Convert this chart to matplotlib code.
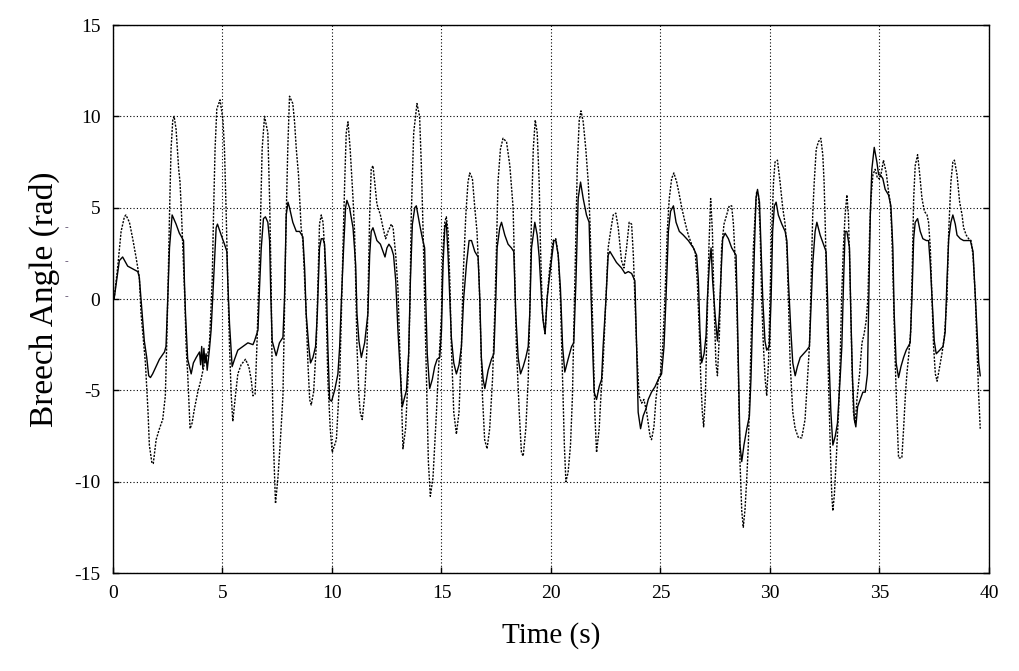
import matplotlib
matplotlib.use("Agg")
import matplotlib.pyplot as plt

# ---------------- data ----------------
# solid trace (smaller amplitude)
t_solid = [
    0.05, 0.29, 0.44, 0.67, 1.13, 1.2, 1.33, 1.43, 1.54, 1.63, 1.71, 1.81, 2.12, 2.35, 2.42,
    2.5, 2.58, 2.7, 2.88, 3.03, 3.22, 3.26, 3.31, 3.41, 3.57, 3.67, 3.8, 3.95, 4.0, 4.05,
    4.1, 4.15, 4.2, 4.25, 4.3, 4.4, 4.48, 4.59, 4.71, 4.77, 4.94, 5.09, 5.2, 5.24, 5.32,
    5.44, 5.55, 5.7, 5.93, 6.16, 6.39, 6.46, 6.62, 6.69, 6.77, 6.87, 6.96, 7.07, 7.15, 7.21,
    7.27, 7.38, 7.45, 7.6, 7.76, 7.83, 7.91, 7.99, 8.06, 8.21, 8.37, 8.52, 8.67, 8.75, 8.82,
    8.94, 9.02, 9.13, 9.25, 9.33, 9.43, 9.51, 9.59, 9.66, 9.74, 9.81, 9.89, 9.98, 10.12,
    10.27, 10.35, 10.43, 10.53, 10.62, 10.68, 10.8, 10.96, 11.08, 11.14, 11.23, 11.34,
    11.49, 11.64, 11.72, 11.79, 11.87, 11.95, 12.05, 12.21, 12.33, 12.42, 12.51, 12.6,
    12.71, 12.81, 12.91, 13.01, 13.12, 13.21, 13.29, 13.4, 13.5, 13.58, 13.67, 13.78,
    13.85, 14.0, 14.13, 14.23, 14.28, 14.35, 14.46, 14.58, 14.69, 14.8, 14.92, 15.0, 15.07,
    15.15, 15.22, 15.3, 15.38, 15.45, 15.56, 15.68, 15.8, 15.91, 16.01, 16.14, 16.26,
    16.37, 16.52, 16.67, 16.75, 16.82, 16.9, 16.98, 17.13, 17.28, 17.39, 17.48, 17.54,
    17.66, 17.74, 17.89, 18.04, 18.19, 18.3, 18.39, 18.5, 18.61, 18.73, 18.85, 18.96,
    19.03, 19.11, 19.19, 19.26, 19.37, 19.46, 19.57, 19.64, 19.73, 19.82, 19.91, 20.02,
    20.13, 20.22, 20.33, 20.43, 20.53, 20.63, 20.78, 20.94, 21.04, 21.14, 21.24, 21.35,
    21.47, 21.62, 21.74, 21.81, 21.9, 21.97, 22.08, 22.2, 22.31, 22.38, 22.51, 22.61,
    22.69, 22.84, 22.99, 23.22, 23.38, 23.53, 23.68, 23.83, 23.91, 23.98, 24.09, 24.21,
    24.34, 24.44, 24.59, 24.75, 24.9, 25.05, 25.16, 25.25, 25.36, 25.46, 25.59, 25.71,
    25.86, 26.04, 26.27, 26.5, 26.65, 26.73, 26.8, 26.88, 26.99, 27.08, 27.14, 27.23,
    27.31, 27.38, 27.49, 27.6, 27.69, 27.75, 27.84, 27.95, 28.1, 28.25, 28.45, 28.51,
    28.57, 28.63, 28.71, 28.81, 28.94, 29.06, 29.13, 29.21, 29.29, 29.36, 29.43, 29.52,
    29.59, 29.67, 29.77, 29.85, 29.97, 30.05, 30.12, 30.2, 30.28, 30.38, 30.54, 30.69,
    30.77, 30.84, 30.95, 31.04, 31.15, 31.25, 31.38, 31.53, 31.68, 31.8, 31.86, 31.95,
    32.06, 32.14, 32.29, 32.44, 32.56, 32.63, 32.7, 32.78, 32.87, 32.98, 33.08, 33.2,
    33.28, 33.36, 33.43, 33.51, 33.63, 33.69, 33.77, 33.85, 33.92, 34.0, 34.12, 34.24,
    34.35, 34.45, 34.5, 34.58, 34.65, 34.76, 34.88, 34.96, 35.03, 35.15, 35.26, 35.41,
    35.52, 35.61, 35.67, 35.76, 35.87, 35.98, 36.1, 36.22, 36.4, 36.48, 36.56, 36.63,
    36.74, 36.86, 36.98, 37.14, 37.24, 37.32, 37.4, 37.5, 37.59, 37.75, 37.9, 38.0, 38.08,
    38.16, 38.26, 38.35, 38.46, 38.54, 38.69, 38.84, 38.99, 39.15, 39.27, 39.38, 39.45,
    39.53, 39.6,
]
angle_solid = [
    0.0, 2.1, 2.3, 1.8, 1.5, 1.2, -0.8, -2.3, -3.2, -4.2, -4.3, -4.1, -3.3, -2.9, -2.6,
    0.0, 2.8, 4.6, 4.1, 3.6, 3.2, 1.0, -0.8, -3.3, -4.1, -3.5, -3.2, -2.9, -3.6, -2.6,
    -3.8, -2.7, -3.5, -3.0, -3.9, -2.8, -1.7, 1.0, 3.9, 4.1, 3.5, 3.0, 2.6, 1.0, -1.35,
    -3.7, -3.3, -2.8, -2.6, -2.4, -2.5, -2.3, -1.7, 0.6, 2.8, 4.4, 4.5, 4.2, 3.2, 0.0,
    -2.3, -2.8, -3.1, -2.4, -2.1, 0.0, 4.6, 5.3, 5.0, 4.2, 3.7, 3.7, 3.4, 1.7, -0.8,
    -2.6, -3.5, -3.2, -2.6, -0.8, 2.8, 3.3, 3.3, 3.0, 1.0, -2.6, -5.5, -5.6, -5.0,
    -4.1, -2.6, 0.0, 2.8, 5.0, 5.4, 5.0, 3.9, 1.9, -0.8, -2.3, -3.2,
    -2.4, -0.8, 2.4, 3.7, 3.9, 3.6, 3.2, 3.0, 2.6, 2.3, 2.8, 3.0,
    2.8, 2.4, 1.0, -1.7, -4.1, -5.9, -5.5, -5.0, -3.0, 1.0, 4.1, 5.0,
    5.1, 4.1, 3.3, 2.8, 0.0, -3.0, -4.9, -4.4, -3.7, -3.3, -3.2, -1.7, 1.9,
    3.9, 4.2, 2.4, 0.0, -2.1, -3.5, -4.1, -3.6, -2.6, 0.0, 1.9, 3.2,
    3.2, 2.6, 2.3, 0.0, -3.2, -4.4, -4.9, -3.9, -3.3, -3.0, 0.0, 2.8,
    3.9, 4.2, 3.5, 3.0, 2.8, 2.6, -0.8, -3.2, -4.1, -3.7, -3.2, -2.6,
    -0.8, 2.8, 3.5, 4.2, 3.5, 2.3, 0.0, -1.2, -1.9, 0.0, 1.0, 2.1,
    3.2, 3.2, 2.4, 0.6, -2.6, -4.0, -3.3, -2.6, -2.4, 1.0, 5.5, 6.4,
    5.5, 4.6, 4.2, 1.0, -2.6, -5.1, -5.5, -4.8, -4.4, -2.6, 0.0, 2.4,
    2.6, 2.3, 2.0, 1.7, 1.4, 1.5, 1.4, 1.0, -2.6, -6.2, -7.1, -6.4,
    -6.0, -5.5, -5.1, -4.8, -4.4, -4.1, -2.6, 0.0, 3.7, 4.8, 5.1, 4.2,
    3.7, 3.5, 3.2, 2.8, 2.4, 1.0, -1.7, -3.5, -3.0, -2.0, 0.0, 1.9,
    2.8, 1.0, -0.8, -2.3, -0.8, 1.0, 3.3, 3.6, 3.3, 2.8, 2.4, -0.8,
    -4.4, -8.0, -8.9, -8.0, -7.1, -6.4, -4.4, -0.8, 2.8, 5.5, 6.0, 5.3,
    2.8, 0.0, -2.3, -2.8, -2.6, 0.0, 3.7, 5.1, 5.3, 4.6, 4.1, 3.7,
    3.2, 1.0, -1.7, -3.5, -4.2, -3.7, -3.2, -3.0, -2.8, -2.6, -0.8, 1.9,
    3.7, 4.2, 3.5, 3.0, 2.6, 0.0, -3.5, -6.2, -8.0, -7.5, -6.8, -4.4,
    -2.6, 1.0, 3.7, 3.7, 2.8, -0.8, -4.4, -6.6, -7.0, -5.9, -5.5, -5.1,
    -5.1, -4.1, -0.8, 4.6, 7.1, 8.3, 7.5, 6.8, 6.8, 6.6, 6.0, 5.7,
    5.1, 2.8, -0.8, -3.5, -4.3, -3.7, -3.2, -2.8, -2.4, 0.0, 3.3, 4.2,
    4.4, 3.7, 3.3, 3.2, 3.2, 1.9, 0.0, -2.3, -3.0, -2.8, -2.6, -1.8, 1.0,
    3.3, 4.2, 4.6, 4.1, 3.5, 3.3, 3.2, 3.2, 3.2, 2.6, 0.0, -1.7,
    -3.5, -4.2,
]

# dotted trace (larger amplitude)
t_dot = [
    0.05, 0.21, 0.37, 0.52, 0.59, 0.75, 0.9, 1.05, 1.2, 1.28, 1.36, 1.48, 1.54, 1.6, 1.66,
    1.78, 1.84, 1.97, 2.12, 2.27, 2.39, 2.45, 2.52, 2.58, 2.65, 2.73, 2.79, 2.88, 3.0,
    3.06, 3.13, 3.19, 3.28, 3.34, 3.41, 3.52, 3.61, 3.72, 3.87, 4.02, 4.18, 4.33, 4.41,
    4.53, 4.59, 4.66, 4.74, 4.89, 5.02, 5.09, 5.17, 5.24, 5.32, 5.4, 5.47, 5.59, 5.7,
    5.85, 6.05, 6.2, 6.31, 6.39, 6.49, 6.57, 6.66, 6.74, 6.81, 6.92, 7.07, 7.15, 7.22,
    7.27, 7.33, 7.42, 7.53, 7.63, 7.76, 7.83, 7.91, 7.98, 8.06, 8.21, 8.29, 8.37, 8.47,
    8.59, 8.67, 8.75, 8.82, 8.9, 8.98, 9.05, 9.16, 9.28, 9.36, 9.43, 9.51, 9.59, 9.66,
    9.74, 9.81, 9.92, 10.01, 10.12, 10.2, 10.27, 10.35, 10.43, 10.5, 10.58, 10.65, 10.73,
    10.83, 10.96, 11.03, 11.08, 11.14, 11.23, 11.29, 11.38, 11.49, 11.6, 11.66, 11.72,
    11.79, 11.87, 11.95, 12.05, 12.21, 12.33, 12.45, 12.56, 12.71, 12.79, 12.91, 13.01,
    13.09, 13.17, 13.24, 13.36, 13.47, 13.55, 13.62, 13.73, 13.88, 14.0, 14.08, 14.16,
    14.23, 14.31, 14.4, 14.49, 14.61, 14.69, 14.77, 14.84, 14.92, 15.0, 15.07, 15.15,
    15.22, 15.3, 15.38, 15.45, 15.56, 15.68, 15.8, 15.91, 15.98, 16.11, 16.21, 16.29,
    16.41, 16.52, 16.62, 16.72, 16.78, 16.87, 16.97, 17.08, 17.2, 17.33, 17.43, 17.51,
    17.58, 17.69, 17.81, 17.97, 18.12, 18.27, 18.35, 18.42, 18.55, 18.65, 18.73, 18.85,
    18.96, 19.03, 19.11, 19.19, 19.28, 19.37, 19.46, 19.52, 19.61, 19.73, 19.82, 19.94,
    20.1, 20.22, 20.33, 20.43, 20.53, 20.61, 20.68, 20.78, 20.89, 20.98, 21.04, 21.14,
    21.2, 21.29, 21.37, 21.47, 21.59, 21.7, 21.78, 21.85, 21.93, 22.0, 22.08, 22.2, 22.28,
    22.38, 22.51, 22.61, 22.72, 22.84, 22.96, 23.07, 23.22, 23.33, 23.45, 23.57, 23.68,
    23.76, 23.83, 23.91, 24.02, 24.14, 24.24, 24.37, 24.52, 24.59, 24.7, 24.79, 24.9,
    25.0, 25.1, 25.2, 25.31, 25.4, 25.51, 25.61, 25.74, 25.86, 25.97, 26.12, 26.27, 26.42,
    26.58, 26.68, 26.77, 26.84, 26.91, 26.97, 27.05, 27.14, 27.21, 27.29, 27.37, 27.44,
    27.53, 27.6, 27.69, 27.79, 27.9, 28.02, 28.14, 28.25, 28.33, 28.4, 28.48, 28.56,
    28.63, 28.71, 28.78, 28.86, 28.94, 29.01, 29.09, 29.17, 29.24, 29.32, 29.39, 29.47,
    29.55, 29.62, 29.7, 29.78, 29.85, 29.93, 30.0, 30.08, 30.16, 30.23, 30.34, 30.46,
    30.58, 30.69, 30.77, 30.84, 30.92, 31.04, 31.15, 31.3, 31.45, 31.6, 31.71, 31.8,
    31.88, 31.95, 32.02, 32.11, 32.21, 32.32, 32.41, 32.47, 32.53, 32.59, 32.67, 32.75,
    32.82, 32.87, 32.94, 33.02, 33.13, 33.2, 33.27, 33.35, 33.43, 33.51, 33.58, 33.66,
    33.74, 33.81, 33.89, 33.97, 34.09, 34.2, 34.3, 34.39, 34.47, 34.55, 34.61, 34.7,
    34.8, 34.91, 35.03, 35.11, 35.18, 35.31, 35.41, 35.49, 35.56, 35.64, 35.72, 35.79,
    35.87, 36.02, 36.1, 36.18, 36.25, 36.34, 36.43, 36.5, 36.56, 36.63, 36.74, 36.83,
    36.94, 37.05, 37.17, 37.24, 37.32, 37.4, 37.47, 37.55, 37.63, 37.75, 37.85, 37.96,
    38.08, 38.16, 38.26, 38.35, 38.42, 38.54, 38.66, 38.77, 38.84, 38.96, 39.07, 39.18,
    39.27, 39.38, 39.45, 39.53, 39.6,
]
angle_dot = [
    0.0, 1.7, 3.7, 4.5, 4.6, 4.2, 3.3, 2.3, 1.2, -0.8, -1.9, -3.5, -4.8, -6.2, -8.0,
    -9.0, -9.0, -7.7, -7.1, -6.6, -5.3, -2.6, 1.0, 4.6, 8.2, 9.8, 10.0, 9.3, 7.1,
    6.4, 4.6, 2.8, 0.0, -2.6, -4.1, -7.1, -6.8, -6.0, -5.1, -4.4, -3.5, -3.0, -2.3,
    1.0, 4.6, 8.2, 10.4, 10.9, 9.8, 8.2, 4.6, 1.0, -2.6, -5.3, -6.7, -5.3, -4.1,
    -3.6, -3.3, -3.7, -4.4, -5.3, -5.2, -2.6, 1.0, 4.6, 8.2, 10.0, 9.1, 5.5, 1.0,
    -4.4, -8.0, -11.2, -9.8, -8.0, -5.3, -0.8, 4.6, 8.2, 11.1, 10.7, 9.7, 8.2, 6.8,
    3.9, 3.2, 1.0, -0.8, -3.5, -5.5, -5.8, -5.1, -2.6, 1.0, 4.1, 4.6, 4.2, 2.8,
    -0.8, -4.4, -7.1, -8.4, -8.0, -7.7, -6.2, -4.4, -0.8, 2.8, 6.4, 9.1, 9.7,
    8.2, 5.5, 3.7, 1.0, -2.6, -5.3, -6.2, -6.6, -5.3, -2.6, 1.0, 4.6,
    7.1, 7.3, 6.4, 5.2, 4.6, 3.9, 3.3, 3.7, 4.1, 3.9, 2.4, 0.6,
    -2.6, -5.3, -8.2, -7.1, -4.4, -0.8, 4.6, 9.1, 10.7, 10.0, 7.3, 3.7,
    0.0, -4.4, -8.9, -10.8, -9.8, -8.0, -6.2, -4.4, -2.6, -0.8, 2.8, 4.2,
    4.5, 3.7, 1.0, -2.6, -6.2, -7.4, -6.2, -2.6, 1.0, 4.6, 6.4, 6.9,
    6.6, 5.0, 3.7, 1.0, -1.7, -5.3, -7.7, -8.2, -7.1, -4.4, -0.8, 2.8,
    6.4, 8.2, 8.8, 8.6, 7.3, 5.0, 1.0, -2.6, -6.2, -8.4, -8.6, -7.1,
    -4.4, -0.8, 4.6, 8.2, 9.8, 9.1, 6.4, 2.8, -0.8, -1.9, 0.0, 1.7,
    3.2, 3.3, 2.4, 0.0, -4.4, -8.0, -10.0, -9.5, -8.0, -5.3, -1.7, 3.7,
    7.3, 9.8, 10.3, 9.7, 8.2, 6.4, 4.2, 1.0, -2.6, -6.2, -8.4, -7.1, -5.3,
    -3.5, 0.0, 2.8, 3.7, 4.6, 4.7, 3.9, 2.1, 1.7, 2.8, 4.2, 4.1,
    2.4, 0.0, -2.6, -5.3, -5.7, -5.5, -6.2, -7.5, -7.7, -7.0, -5.5, -4.4,
    -4.1, -2.6, 0.0, 3.7, 5.5, 6.6, 6.9, 6.4, 5.7, 5.0, 4.2, 3.5, 3.0,
    2.6, 1.0, -1.7, -4.4, -6.2, -7.0, -5.3, -0.8, 2.8, 5.5, 3.7, 0.0,
    -3.5, -4.2, -1.9, 2.8, 4.1, 4.6, 5.1, 5.1, 4.1, 2.4, 0.0, -4.4,
    -8.9, -11.6, -12.5, -11.5, -9.8, -8.0, -4.4, -0.8, 2.8, 4.6, 5.9, 5.7,
    3.7, 0.0, -2.6, -4.4, -5.3, -3.5, 0.0, 3.7, 6.4, 7.5, 7.6, 6.4,
    5.0, 4.1, 2.8, 0.0, -3.5, -6.2, -7.1, -7.6, -7.6, -6.6, -4.4, -2.6,
    1.0, 4.6, 6.4, 8.2, 8.6, 8.8, 7.9, 6.4, 3.7, 0.0, -4.4, -8.0,
    -10.7, -11.6, -10.7, -8.9, -6.2, -3.5, 0.0, 2.8, 4.6, 5.7, 4.6, 1.0,
    -3.5, -6.2, -6.8, -5.5, -4.1, -2.4, -1.9, -1.2, 0.0, 3.7, 5.5, 6.8,
    7.1, 6.6, 6.6, 7.1, 7.6, 6.9, 5.9, 5.3, 3.7, 0.0, -3.5, -6.2,
    -8.7, -8.7, -7.1, -5.3, -4.1, -3.0, -1.7, 1.9, 5.5, 7.3, 7.9, 6.9,
    5.5, 4.8, 4.6, 4.2, 2.8, 0.0, -2.6, -4.1, -4.5, -3.7, -3.0, -2.1,
    0.0, 3.7, 6.4, 7.5, 7.6, 6.8, 5.3, 4.6, 3.9, 3.5, 3.3, 3.2,
    2.4, 0.0, -2.6, -5.3, -7.1,
]

x_ticks = [0, 5, 10, 15, 20, 25, 30, 35, 40]
y_ticks = [-15, -10, -5, 0, 5, 10, 15]

# ---------------- figure ----------------
plt.rcParams["font.family"] = ["Liberation Serif", "DejaVu Serif"]
plt.rcParams["axes.unicode_minus"] = False

fig = plt.figure(figsize=(10.2, 6.71), dpi=100)
ax = fig.add_axes([113 / 1020, 98 / 671, 876 / 1020, 548 / 671])

ax.plot(t_dot, angle_dot, color="black", lw=1.0, linestyle=(0, (1.5, 1)))
ax.plot(t_solid, angle_solid, color="black", lw=1.0)

ax.set_xlim(0, 40)
ax.set_ylim(-15, 15)
ax.set_xticks(x_ticks)
ax.set_yticks(y_ticks)
ax.tick_params(direction="in", length=4, width=1, right=True,
               labelsize=14, pad=9)
ax.grid(True, color="black", lw=0.8, linestyle=(0, (1, 2)))
for sp in ax.spines.values():
    sp.set_linewidth(1.0)
# top edge of the frame is drawn dotted in the original
ax.spines["top"].set_linestyle((0, (1, 1)))

ax.set_xlabel("Time (s)", fontsize=21, labelpad=14)
ax.set_ylabel("Breech Angle (rad)", fontsize=24, labelpad=10)

# stray marks left of the y label in the original
for yy in [228, 262, 297]:
    fig.text(66 / 1020, 1 - yy / 671, "-", fontsize=8, color="#5a4a6a",
             ha="center", va="center")

fig.savefig("out.png", dpi=100)
